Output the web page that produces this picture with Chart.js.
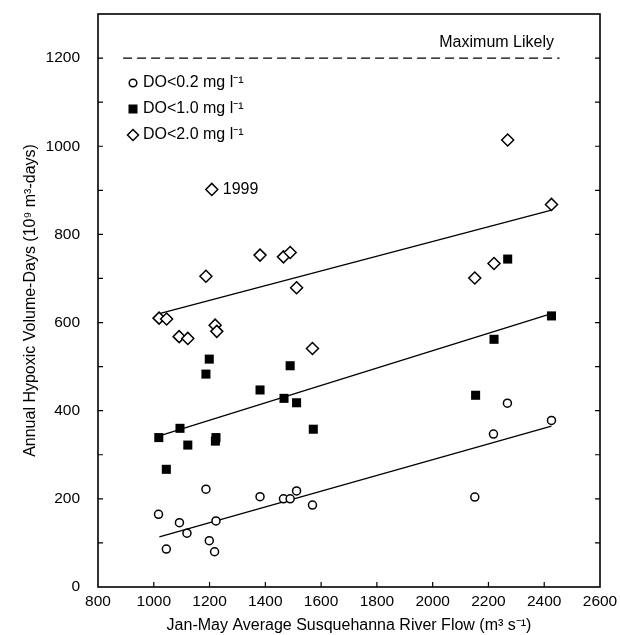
<!DOCTYPE html>
<html>
<head>
    <title>Hypoxic Volume-Days vs River Flow</title>
    <script src="https://cdn.jsdelivr.net/npm/chart.js"></script>
    <style>
        body { margin: 0; background: #fff; }
        #wrap { width: 620px; height: 635px; }
    </style>
</head>
<body>
    <div id="wrap"><canvas id="hypoxia-chart" width="620" height="635"></canvas></div>

    <script>
        // Jan-May flow (m3 s-1) and hypoxic volume-days, one pair per year
        const flowDo02 = [1017, 1045, 1092, 1119, 1187, 1199, 1218, 1223, 1381, 1465, 1489, 1512, 1569, 2151, 2218, 2268, 2426];
        const volDo02  = [165, 86, 146, 122, 222, 105, 80, 150, 205, 200, 200, 218, 186, 204, 347, 417, 378];

        const flowDo10 = [1018, 1045, 1094, 1122, 1187, 1199, 1221, 1223, 1381, 1467, 1489, 1512, 1572, 2154, 2220, 2269, 2426];
        const volDo10  = [339, 267, 360, 322, 483, 517, 331, 339, 447, 428, 502, 418, 358, 435, 562, 744, 615];

        const flowDo20 = [1019, 1046, 1091, 1122, 1187, 1208, 1220, 1226, 1381, 1465, 1489, 1512, 1569, 2151, 2220, 2269, 2426];
        const volDo20  = [610, 608, 568, 564, 705, 902, 594, 580, 753, 749, 759, 679, 541, 701, 734, 1014, 868];

        // regression line ends
        const fitFlow = [1020, 2426];
        const fitDo02 = [114, 365];
        const fitDo10 = [343, 620];
        const fitDo20 = [620, 855];

        const maxFlow = [890, 2455];
        const maxLikely = 1200;

        const seriesNames = ['DO<0.2 mg l\u207B\u00B9', 'DO<1.0 mg l\u207B\u00B9', 'DO<2.0 mg l\u207B\u00B9'];
        const note1999 = { flow: 1208, vol: 902, text: '1999' };

        const FONT = '"Liberation Sans", Arial, Helvetica, sans-serif';

        function pairs(xs, ys) {
            return xs.map((x, i) => ({ x: x, y: ys[i] }));
        }

        function fitLine(ys) {
            return {
                type: 'line',
                data: pairs(fitFlow, ys),
                borderColor: '#000',
                borderWidth: 1.3,
                pointRadius: 0,
                showLine: true,
                fill: false
            };
        }

        // frame, inward ticks, legend and text labels
        const decorations = {
            id: 'decorations',
            afterDatasetsDraw(chart) {
                const { ctx, chartArea: a, scales: { x, y } } = chart;
                ctx.save();
                ctx.strokeStyle = '#000';
                ctx.lineWidth = 1.6;
                ctx.strokeRect(a.left, a.top, a.right - a.left, a.bottom - a.top);

                ctx.lineWidth = 1.2;
                ctx.beginPath();
                for (let v = 100; v < 1300; v += 100) {
                    const py = y.getPixelForValue(v);
                    ctx.moveTo(a.left, py); ctx.lineTo(a.left + 5, py);
                    ctx.moveTo(a.right, py); ctx.lineTo(a.right - 5, py);
                }
                for (let v = 1000; v < 2600; v += 200) {
                    const px = x.getPixelForValue(v);
                    ctx.moveTo(px, a.bottom); ctx.lineTo(px, a.bottom - 5);
                }
                ctx.stroke();

                // legend
                const lx = a.left + 35;
                const rows = [a.top + 69, a.top + 95, a.top + 121];
                ctx.fillStyle = '#000';
                ctx.lineWidth = 1.5;
                ctx.beginPath();
                ctx.arc(lx, rows[0], 3.8, 0, Math.PI * 2);
                ctx.stroke();
                ctx.fillRect(lx - 4.5, rows[1] - 4.5, 9, 9);
                ctx.beginPath();
                ctx.moveTo(lx, rows[2] - 5.5); ctx.lineTo(lx + 5.5, rows[2]);
                ctx.lineTo(lx, rows[2] + 5.5); ctx.lineTo(lx - 5.5, rows[2]);
                ctx.closePath();
                ctx.stroke();

                ctx.font = '16px ' + FONT;
                ctx.textAlign = 'left';
                ctx.textBaseline = 'middle';
                seriesNames.forEach((name, i) => ctx.fillText(name, lx + 10, rows[i]));

                // annotations
                ctx.fillText(note1999.text, x.getPixelForValue(note1999.flow) + 11, y.getPixelForValue(note1999.vol));
                ctx.textAlign = 'right';
                ctx.textBaseline = 'alphabetic';
                ctx.fillText('Maximum Likely', x.getPixelForValue(2435), y.getPixelForValue(maxLikely) - 11);
                ctx.restore();
            }
        };

        const ctx = document.getElementById('hypoxia-chart').getContext('2d');
        new Chart(ctx, {
            type: 'scatter',
            data: {
                datasets: [
                    {
                        label: seriesNames[0],
                        data: pairs(flowDo02, volDo02),
                        pointStyle: 'circle',
                        pointRadius: 4,
                        borderWidth: 1.5,
                        borderColor: '#000',
                        backgroundColor: '#fff'
                    },
                    {
                        label: seriesNames[1],
                        data: pairs(flowDo10, volDo10),
                        pointStyle: 'rect',
                        pointRadius: 6.4,
                        borderWidth: 0,
                        borderColor: '#000',
                        backgroundColor: '#000'
                    },
                    {
                        label: seriesNames[2],
                        data: pairs(flowDo20, volDo20),
                        pointStyle: 'rectRot',
                        pointRadius: 6,
                        borderWidth: 1.5,
                        borderColor: '#000',
                        backgroundColor: '#fff'
                    },
                    fitLine(fitDo02),
                    fitLine(fitDo10),
                    fitLine(fitDo20),
                    {
                        type: 'line',
                        data: pairs(maxFlow, [maxLikely, maxLikely]),
                        borderColor: '#000',
                        borderWidth: 1.3,
                        borderDash: [9, 5],
                        pointRadius: 0,
                        fill: false
                    }
                ]
            },
            options: {
                responsive: false,
                animation: false,
                layout: { padding: { top: 14, right: 20, left: 0, bottom: 0 } },
                plugins: {
                    legend: { display: false },
                    tooltip: { enabled: false }
                },
                scales: {
                    x: {
                        type: 'linear',
                        min: 800,
                        max: 2600,
                        grid: { display: false },
                        border: { display: false },
                        ticks: {
                            stepSize: 200,
                            padding: -3,
                            color: '#000',
                            font: { family: FONT, size: 15.5 },
                            callback: v => String(v)
                        },
                        title: {
                            display: true,
                            text: 'Jan-May Average Susquehanna River Flow (m\u00B3 s\u207B\u00B9)',
                            color: '#000',
                            font: { family: FONT, size: 16 },
                            padding: { top: 2, bottom: 0 }
                        },
                        afterFit(scale) {
                            scale.height = 48;
                            scale.paddingLeft = 0;
                            scale.paddingRight = 0;
                        }
                    },
                    y: {
                        min: 0,
                        max: 1300,
                        grid: { display: false },
                        border: { display: false },
                        ticks: {
                            stepSize: 200,
                            padding: 10,
                            color: '#000',
                            font: { family: FONT, size: 15.5 },
                            callback: v => (v % 200 === 0 ? String(v) : '')
                        },
                        title: {
                            display: true,
                            text: 'Annual Hypoxic Volume-Days (10\u2079 m\u00B3-days)',
                            color: '#000',
                            font: { family: FONT, size: 16 },
                            padding: { top: 21, bottom: 0 }
                        },
                        afterFit(scale) {
                            scale.width = 98;
                            scale.paddingTop = 0;
                            scale.paddingBottom = 0;
                        }
                    }
                }
            },
            plugins: [decorations]
        });
    </script>
</body>
</html>
